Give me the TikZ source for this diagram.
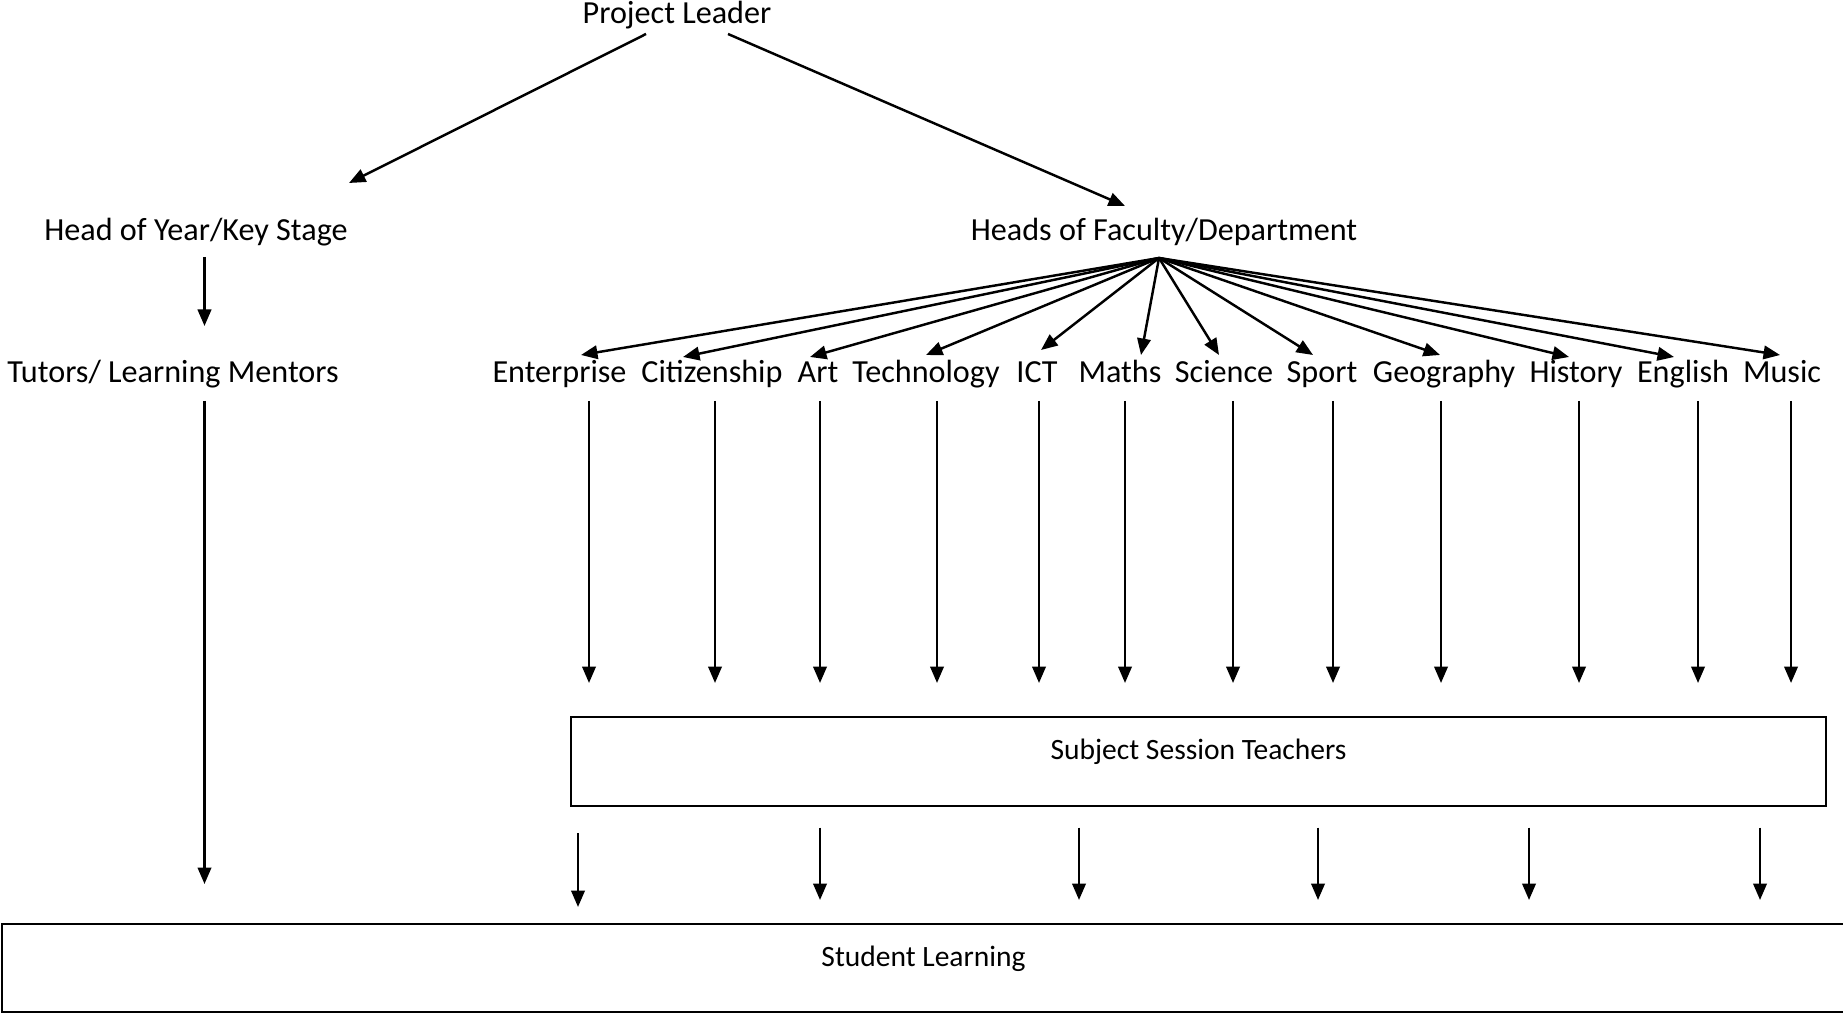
\documentclass[tikz,border=0pt]{standalone}
\usepackage{fontspec}
\setmainfont{Carlito}
\usepackage{tikz}
\usetikzlibrary{
	shapes,
	calc,
	arrows.meta}

\begin{document}
\begin{tikzpicture}[scale=1,line width=0.7pt,
  >={Triangle[length=1.65mm,width=1.35mm]},
  every node/.style={font=\fontsize{9.15}{11}\selectfont},
  lbl/.style={anchor=base,inner sep=0pt},
  tbox/.style={draw,line width=0.6pt,anchor=south west,inner sep=0pt,font=\fontsize{8.4}{10}\selectfont}]

  \useasboundingbox (0,0) rectangle (18.43,10.16);

  % Top of the chart
  \node[lbl] (PL) at (6.77,9.92) {Project Leader};
  \node[lbl] (HY) at (1.96,7.755) {Head of Year/Key Stage};
  \node[lbl] (HF) at (11.64,7.755) {Heads of Faculty/Department};
  \node[lbl] (TM) at (1.73,6.335) {Tutors/ Learning Mentors};

  \coordinate (PL1) at (6.46,9.82);
  \coordinate (PL2) at (7.28,9.82);
  \coordinate (HY1) at (3.49,8.33);
  \coordinate (HF1) at (11.25,8.10);
  \coordinate (HY2) at (2.045,7.59);
  \coordinate (TM1) at (2.045,6.90);
  \coordinate (TM2) at (2.045,6.15);
  \coordinate (SL1) at (2.045,1.32);

  \draw [->] (PL1) to (HY1);
  \draw [->] (PL2) to (HF1);
  \draw [->] (HY2) to (TM1);
  \draw [->] (TM2) to (SL1);

  % Subjects
  \node[lbl] (En) at (5.595,6.335) {Enterprise};
  \node[lbl] (Ci) at (7.12,6.335) {Citizenship};
  \node[lbl] (Ar) at (8.18,6.335) {Art};
  \node[lbl] (Te) at (9.26,6.335) {Technology};
  \node[lbl] (IC) at (10.37,6.335) {ICT};
  \node[lbl] (Ma) at (11.20,6.335) {Maths};
  \node[lbl] (Sc) at (12.24,6.335) {Science};
  \node[lbl] (Sp) at (13.22,6.335) {Sport};
  \node[lbl] (Ge) at (14.44,6.335) {Geography};
  \node[lbl] (Hi) at (15.76,6.335) {History};
  \node[lbl] (Eg) at (16.83,6.335) {English};
  \node[lbl] (Mu) at (17.82,6.335) {Music};

  % fan out of the heads of faculty
  \coordinate (F) at (11.59,7.58);
  \coordinate (En-t) at (5.81,6.61);
  \coordinate (Ci-t) at (6.83,6.59);
  \coordinate (Ar-t) at (8.10,6.59);
  \coordinate (Te-t) at (9.26,6.61);
  \coordinate (IC-t) at (10.41,6.66);
  \coordinate (Ma-t) at (11.41,6.61);
  \coordinate (Sc-t) at (12.19,6.61);
  \coordinate (Sp-t) at (13.13,6.61);
  \coordinate (Ge-t) at (14.40,6.61);
  \coordinate (Hi-t) at (15.69,6.59);
  \coordinate (Eg-t) at (16.74,6.59);
  \coordinate (Mu-t) at (17.80,6.61);

  \draw [->] (F) to (En-t);
  \draw [->] (F) to (Ci-t);
  \draw [->] (F) to (Ar-t);
  \draw [->] (F) to (Te-t);
  \draw [->] (F) to (IC-t);
  \draw [->] (F) to (Ma-t);
  \draw [->] (F) to (Sc-t);
  \draw [->] (F) to (Sp-t);
  \draw [->] (F) to (Ge-t);
  \draw [->] (F) to (Hi-t);
  \draw [->] (F) to (Eg-t);
  \draw [->] (F) to (Mu-t);

  % Subject -> teachers
  \coordinate (En-a) at (5.89,6.15);   \coordinate (En-b) at (5.89,3.33);
  \coordinate (Ci-a) at (7.15,6.15);   \coordinate (Ci-b) at (7.15,3.33);
  \coordinate (Ar-a) at (8.20,6.15);   \coordinate (Ar-b) at (8.20,3.33);
  \coordinate (Te-a) at (9.37,6.15);   \coordinate (Te-b) at (9.37,3.33);
  \coordinate (IC-a) at (10.39,6.15);  \coordinate (IC-b) at (10.39,3.33);
  \coordinate (Ma-a) at (11.25,6.15);  \coordinate (Ma-b) at (11.25,3.33);
  \coordinate (Sc-a) at (12.33,6.15);  \coordinate (Sc-b) at (12.33,3.33);
  \coordinate (Sp-a) at (13.33,6.15);  \coordinate (Sp-b) at (13.33,3.33);
  \coordinate (Ge-a) at (14.41,6.15);  \coordinate (Ge-b) at (14.41,3.33);
  \coordinate (Hi-a) at (15.79,6.15);  \coordinate (Hi-b) at (15.79,3.33);
  \coordinate (Eg-a) at (16.98,6.15);  \coordinate (Eg-b) at (16.98,3.33);
  \coordinate (Mu-a) at (17.91,6.15);  \coordinate (Mu-b) at (17.91,3.33);

  \draw [->] (En-a) to (En-b);
  \draw [->] (Ci-a) to (Ci-b);
  \draw [->] (Ar-a) to (Ar-b);
  \draw [->] (Te-a) to (Te-b);
  \draw [->] (IC-a) to (IC-b);
  \draw [->] (Ma-a) to (Ma-b);
  \draw [->] (Sc-a) to (Sc-b);
  \draw [->] (Sp-a) to (Sp-b);
  \draw [->] (Ge-a) to (Ge-b);
  \draw [->] (Hi-a) to (Hi-b);
  \draw [->] (Eg-a) to (Eg-b);
  \draw [->] (Mu-a) to (Mu-b);

  % Boxes
  \node[tbox,minimum width=12.55cm,text height=0.425cm,text depth=0.465cm] (ST) at (5.70,2.09) {Subject Session Teachers};
  \node[tbox,minimum width=18.43cm,text height=0.43cm,text depth=0.45cm] (SL) at (0.01,0.03) {Student Learning};

  % Teachers -> learning
  \coordinate (T1a) at (5.78,1.83);   \coordinate (T1b) at (5.78,1.09);
  \coordinate (T2a) at (8.20,1.885);  \coordinate (T2b) at (8.20,1.16);
  \coordinate (T3a) at (10.79,1.885); \coordinate (T3b) at (10.79,1.16);
  \coordinate (T4a) at (13.18,1.885); \coordinate (T4b) at (13.18,1.16);
  \coordinate (T5a) at (15.29,1.885); \coordinate (T5b) at (15.29,1.16);
  \coordinate (T6a) at (17.60,1.885); \coordinate (T6b) at (17.60,1.16);

  \draw [->] (T1a) to (T1b);
  \draw [->] (T2a) to (T2b);
  \draw [->] (T3a) to (T3b);
  \draw [->] (T4a) to (T4b);
  \draw [->] (T5a) to (T5b);
  \draw [->] (T6a) to (T6b);

\end{tikzpicture}
\end{document}
